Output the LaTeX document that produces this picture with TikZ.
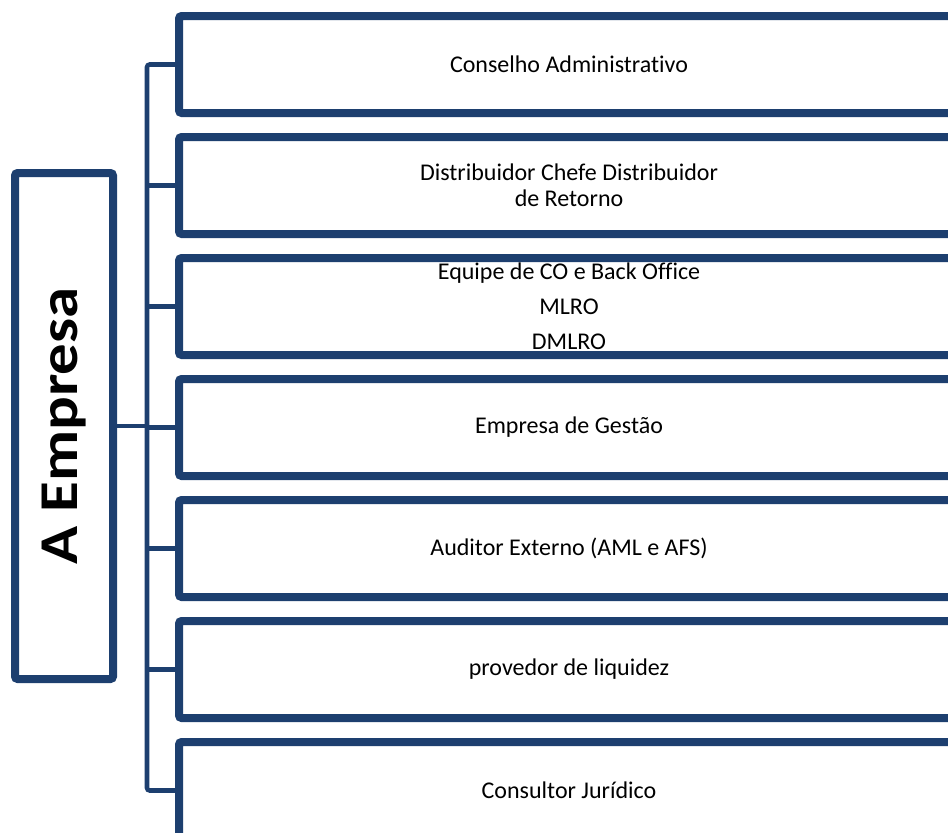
\documentclass[tikz,border=0pt]{standalone}
\usepackage{fontspec}
\setmainfont{Carlito}[Ligatures={NoCommon,NoContextual}]
\usetikzlibrary{positioning,shadows}
\definecolor{boxblue}{RGB}{29,63,111}

\begin{document}
\begin{tikzpicture}[x=0.75pt,y=-0.75pt,
    unit/.style={draw=boxblue,line width=6pt,fill=white,rounded corners=2pt,
      minimum width=585pt,minimum height=72.75pt,inner sep=0pt,align=center,
      font=\fontsize{18}{19.5}\selectfont,
      drop shadow={shadow xshift=1.5pt,shadow yshift=-2.5pt,opacity=0.25}},
    head/.style={draw=boxblue,line width=6pt,fill=white,rounded corners=2pt,
      minimum width=73.5pt,minimum height=379.5pt,inner sep=0pt,
      font=\fontsize{41}{41}\bfseries,
      drop shadow={shadow xshift=1.5pt,shadow yshift=-2.5pt,opacity=0.25}},
    conn/.style={draw=boxblue,line width=3.4pt}]
  \useasboundingbox (0,0) rectangle (948,832);
  \clip (0,0) rectangle (948,832);

  % units of the firm
  \foreach \txt [count=\i] in {{Conselho Administrativo},
      {Distribuidor Chefe Distribuidor\\de Retorno},
      {Equipe de CO e Back Office\\[6.75pt]MLRO\\[6.75pt]DMLRO},
      {Empresa de Gestão},
      {Auditor Externo (AML e AFS)},
      {provedor de liquidez},
      {Consultor Jurídico}}{
    \node[unit] (b\i) at (569,{64.5+121*(\i-1)}) {\txt};
  }

  \node[head] (firm) at (64,426) {\rotatebox{90}{\scalebox{1.15}[1]{A Empresa}}};

  % bus
  \coordinate (bus) at (147,0);
  \draw[conn,rounded corners=2pt] (b1.west) -| (bus |- b7.west) -- (b7.west);
  \foreach \i in {2,...,6}
    \draw[conn] (b\i.west) -- (bus |- b\i.west);
  \draw[conn] (firm.east) -- (bus |- firm.east);
\end{tikzpicture}
\end{document}
